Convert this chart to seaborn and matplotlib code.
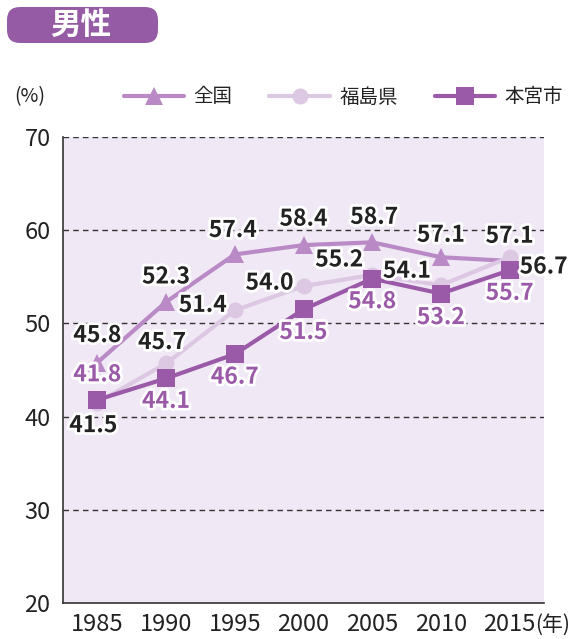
import pandas as pd
import matplotlib.pyplot as plt
import seaborn as sns
import matplotlib.patheffects as pe
from matplotlib.patches import FancyBboxPatch
from matplotlib.lines import Line2D

# --- Datos ---
años = ['1985', '1990', '1995', '2000', '2005', '2010', '2015']
zenkoku = [45.8, 52.3, 57.4, 58.4, 58.7, 57.1, 56.7]
fukushima = [41.5, 45.7, 51.4, 54.0, 55.2, 54.1, 57.1]
motomiya = [41.8, 44.1, 46.7, 51.5, 54.8, 53.2, 55.7]
nombres = ['全国', '福島県', '本宮市']

# --- Estilo ---
C_ZEN = '#b98ac6'
C_FUK = '#dcc8e3'
C_MOT = '#9a5aa8'
C_BADGE = '#955ca5'
FONDO = '#f1e8f5'
TXT = '#222222'

sns.set_theme(style='white')
plt.rcParams['font.family'] = ['Noto Sans CJK JP', 'DejaVu Sans']

df = pd.DataFrame({'x': range(len(años)), '全国': zenkoku, '福島県': fukushima, '本宮市': motomiya})

fig = plt.figure(figsize=(5.78, 6.39), dpi=100)
ax = fig.add_axes([63 / 578, 1 - 603 / 639, 481 / 578, 466 / 639])
ax.set_facecolor(FONDO)

sns.lineplot(data=df, x='x', y='全国', ax=ax, color=C_ZEN, lw=3, marker='^', markersize=13,
             markeredgewidth=0, zorder=3)
sns.lineplot(data=df, x='x', y='福島県', ax=ax, color=C_FUK, lw=3, marker='o', markersize=11.5,
             markeredgewidth=0, zorder=4)
sns.lineplot(data=df, x='x', y='本宮市', ax=ax, color=C_MOT, lw=3, marker='s', markersize=12.5,
             markeredgewidth=0, zorder=5)

ax.set_xlim(-0.5, len(años) - 0.5)
ax.set_ylim(20, 70)
ax.set_xlabel(None)
ax.set_ylabel(None)

# grilla punteada
for y in [30, 40, 50, 60, 70]:
    ax.axhline(y, color='#333333', lw=1, ls=(0, (4, 3)), zorder=1)

for s in ['top', 'right']:
    ax.spines[s].set_visible(False)
for s in ['left', 'bottom']:
    ax.spines[s].set_color('#333333')
    ax.spines[s].set_linewidth(1.2)

ax.set_yticks([20, 30, 40, 50, 60, 70])
ax.tick_params(axis='y', length=0, labelsize=17, pad=9, labelcolor=TXT)
ax.set_xticks([i + 0.5 for i in range(-1, len(años))])
ax.set_xticklabels([])
ax.tick_params(axis='x', direction='in', length=7, width=1, color='#555555')
for i, a in enumerate(años):
    ax.annotate(a, (i, 0), xycoords=('data', 'axes fraction'), xytext=(0, -10),
                textcoords='offset pixels', ha='center', va='top', fontsize=17, color=TXT,
                annotation_clip=False)
ax.annotate('(年)', (len(años) - 1, 0), xycoords=('data', 'axes fraction'), xytext=(25, -11),
            textcoords='offset pixels', ha='left', va='top', fontsize=15, color=TXT,
            annotation_clip=False)

# --- Etiquetas de datos (desplazamientos en píxeles) ---
off_zen = [(0, 27), (0, 25), (-2, 24), (0, 26), (2, 25), (0, 22), (34, -6)]
off_fuk = [(-4, -23), (-4, 21), (-32, 5), (-34, 3), (-33, 15), (-34, 14), (0, 21)]
off_mot = [(0, 25), (0, -23), (0, -23), (0, -23), (0, -23), (0, -24), (0, -23)]

borde = [pe.withStroke(linewidth=4, foreground='white')]

def etiquetar(valores, offs, color):
    for i, (v, o) in enumerate(zip(valores, offs)):
        ax.annotate(f'{v:.1f}', (i, v), xytext=o, textcoords='offset pixels', ha='center', va='center',
                    fontsize=16.5, fontweight='bold', color=color, path_effects=borde, zorder=10,
                    annotation_clip=False)

etiquetar(zenkoku, off_zen, TXT)
etiquetar(fukushima, off_fuk, TXT)
etiquetar(motomiya, off_mot, C_MOT)

# --- Leyenda ---
handles = [
    Line2D([], [], color=C_ZEN, lw=3, marker='^', markersize=13, markeredgewidth=0),
    Line2D([], [], color=C_FUK, lw=3, marker='o', markersize=11.5, markeredgewidth=0),
    Line2D([], [], color=C_MOT, lw=3, marker='s', markersize=12.5, markeredgewidth=0),
]
fig.legend(handles, nombres, loc='center left', bbox_to_anchor=(106 / 578, 1 - 97 / 639), ncol=3,
           frameon=False, fontsize=14, handlelength=3.1, columnspacing=1.9, handletextpad=0.5,
           labelcolor=TXT)
fig.text(14 / 578, 1 - 97 / 639, '(%)', ha='left', va='center', fontsize=14, color=TXT)

# --- Insignia del título (en píxeles) ---
badge = FancyBboxPatch((7, 639 - 43), 151, 36, boxstyle='round,pad=0,rounding_size=13',
                       transform=None, facecolor=C_BADGE, edgecolor='none')
fig.patches.append(badge)
fig.text(81 / 578, 1 - 25 / 639, '男性', ha='center', va='center', fontsize=22, fontweight='bold',
         color='white')

plt.savefig('out.png', dpi=100)
